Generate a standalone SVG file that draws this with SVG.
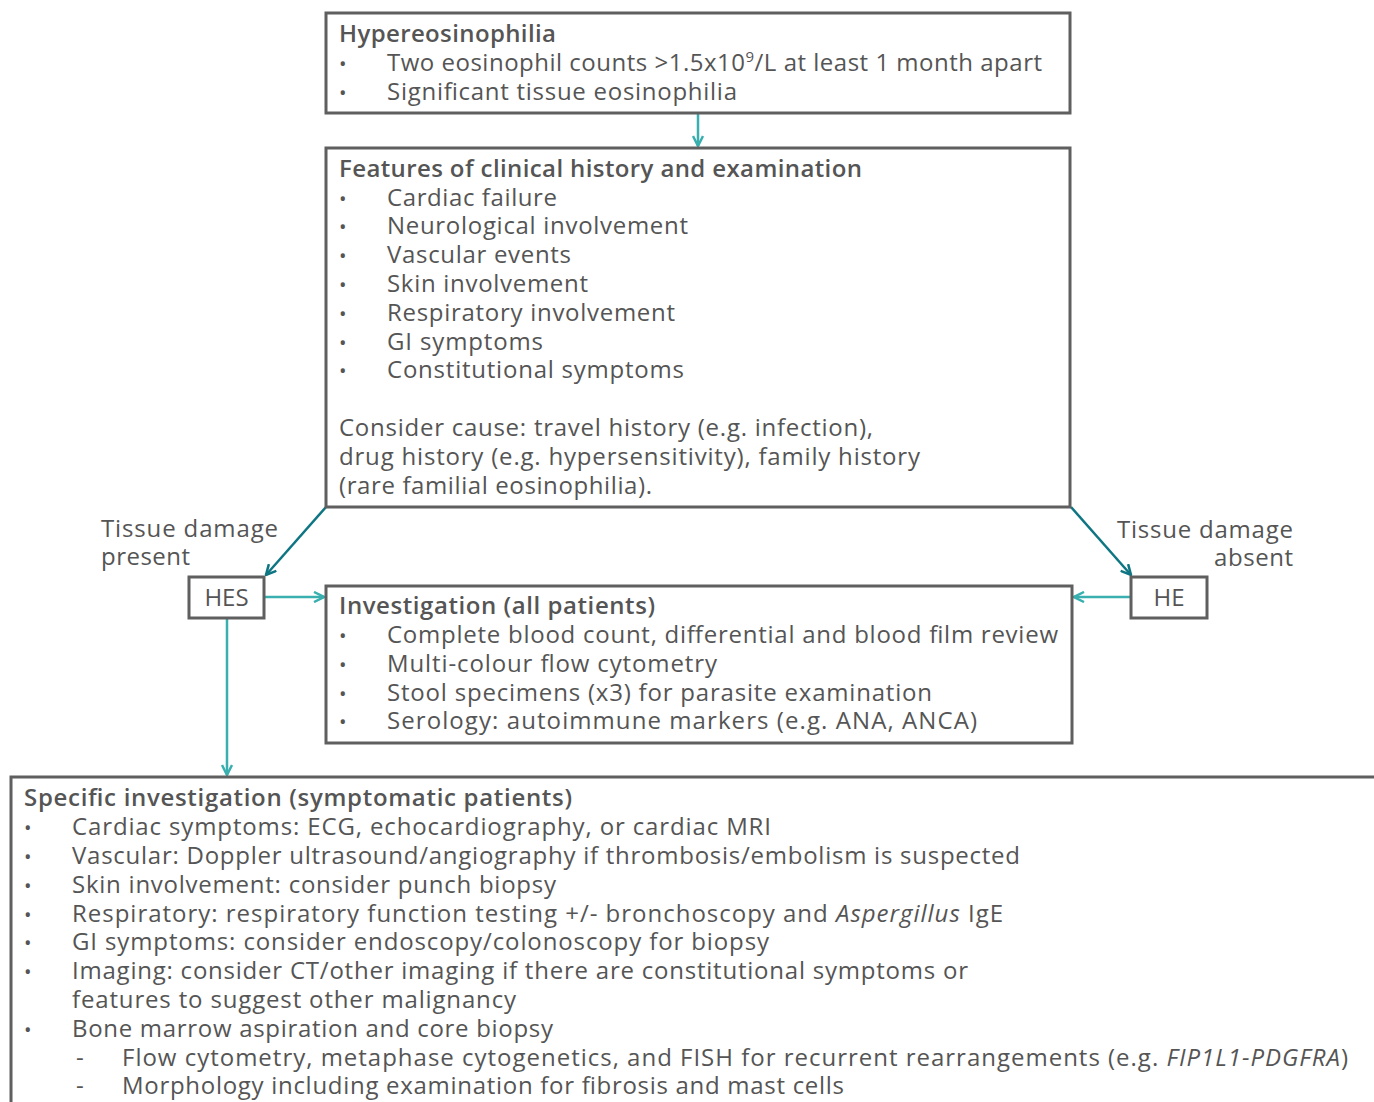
<svg xmlns="http://www.w3.org/2000/svg" width="1374" height="1102" viewBox="0 0 1374 1102">
<defs>
<style>
.box{fill:#fff;stroke:#5f5f5f;stroke-width:3}
text{font-family:"Open Sans","Liberation Sans",sans-serif;font-size:24px;fill:#555}
.t{font-weight:600;fill:#555}
.b{font-size:20px}
.c{stroke:#3aafb0;stroke-width:2.5;fill:none}
.d{stroke:#0e7583;stroke-width:2.5;fill:none}
</style>
<marker id="ah" viewBox="0 0 12 12" refX="11" refY="6" markerWidth="12" markerHeight="12" markerUnits="userSpaceOnUse" orient="auto"><path d="M1,1 L11,6 L1,11" fill="none" stroke="#3aafb0" stroke-width="2.5"/></marker>
<marker id="ahd" viewBox="0 0 12 12" refX="11" refY="6" markerWidth="12" markerHeight="12" markerUnits="userSpaceOnUse" orient="auto"><path d="M1,1 L11,6 L1,11" fill="none" stroke="#0e7583" stroke-width="2.5"/></marker>
</defs>
<rect width="1374" height="1102" fill="#fff"/>
<g id="connectors">
<line class="c" x1="698" y1="113" x2="698" y2="146" marker-end="url(#ah)"/>
<line class="d" x1="326" y1="507" x2="266" y2="575" marker-end="url(#ahd)"/>
<line class="d" x1="1071" y1="507" x2="1131" y2="575" marker-end="url(#ahd)"/>
<line class="c" x1="264" y1="597" x2="324" y2="597" marker-end="url(#ah)"/>
<line class="c" x1="1131" y1="597" x2="1074" y2="597" marker-end="url(#ah)"/>
<line class="c" x1="227" y1="618" x2="227" y2="775" marker-end="url(#ah)"/>
</g>
<g id="hypereosinophilia">
<rect class="box" x="326" y="13" width="744" height="100"/>
<text class="t" x="339" y="42" textLength="217" lengthAdjust="spacing">Hypereosinophilia</text>
<text class="b" x="339" y="71">•</text><text x="387" y="71" textLength="655" lengthAdjust="spacing">Two eosinophil counts &gt;1.5x10<tspan font-size="15" dy="-9">9</tspan><tspan dy="9">/L at least 1 month apart</tspan></text>
<text class="b" x="339" y="100">•</text><text x="387" y="100" textLength="350" lengthAdjust="spacing">Significant tissue eosinophilia</text>
</g>
<g id="features">
<rect class="box" x="326" y="148" width="744" height="359"/>
<text class="t" x="339" y="177" textLength="523" lengthAdjust="spacing">Features of clinical history and examination</text>
<text class="b" x="339" y="206">•</text><text x="387" y="206" textLength="170" lengthAdjust="spacing">Cardiac failure</text>
<text class="b" x="339" y="234">•</text><text x="387" y="234" textLength="301" lengthAdjust="spacing">Neurological involvement</text>
<text class="b" x="339" y="263">•</text><text x="387" y="263" textLength="184" lengthAdjust="spacing">Vascular events</text>
<text class="b" x="339" y="292">•</text><text x="387" y="292" textLength="201" lengthAdjust="spacing">Skin involvement</text>
<text class="b" x="339" y="321">•</text><text x="387" y="321" textLength="288" lengthAdjust="spacing">Respiratory involvement</text>
<text class="b" x="339" y="350">•</text><text x="387" y="350" textLength="156" lengthAdjust="spacing">GI symptoms</text>
<text class="b" x="339" y="378">•</text><text x="387" y="378" textLength="297" lengthAdjust="spacing">Constitutional symptoms</text>
<text x="339" y="436" textLength="534" lengthAdjust="spacing">Consider cause: travel history (e.g. infection),</text>
<text x="339" y="465" textLength="581" lengthAdjust="spacing">drug history (e.g. hypersensitivity), family history</text>
<text x="339" y="494" textLength="313" lengthAdjust="spacing">(rare familial eosinophilia).</text>
</g>
<g id="label-present">
<text x="101" y="537" textLength="177" lengthAdjust="spacing">Tissue damage</text>
<text x="101" y="565" textLength="89" lengthAdjust="spacing">present</text>
</g>
<g id="label-absent">
<text x="1117" y="538" textLength="176" lengthAdjust="spacing">Tissue damage</text>
<text x="1214" y="566" textLength="79" lengthAdjust="spacing">absent</text>
</g>
<g id="hes">
<rect class="box" x="189" y="577" width="75" height="41"/>
<text x="226.5" y="606" text-anchor="middle">HES</text>
</g>
<g id="he">
<rect class="box" x="1131" y="577" width="76" height="41"/>
<text x="1169" y="606" text-anchor="middle">HE</text>
</g>
<g id="investigation">
<rect class="box" x="326" y="586" width="746" height="157"/>
<text class="t" x="339" y="614" textLength="316" lengthAdjust="spacing">Investigation (all patients)</text>
<text class="b" x="339" y="643">•</text><text x="387" y="643" textLength="671" lengthAdjust="spacing">Complete blood count, differential and blood film review</text>
<text class="b" x="339" y="672">•</text><text x="387" y="672" textLength="330" lengthAdjust="spacing">Multi-colour flow cytometry</text>
<text class="b" x="339" y="701">•</text><text x="387" y="701" textLength="545" lengthAdjust="spacing">Stool specimens (x3) for parasite examination</text>
<text class="b" x="339" y="729">•</text><text x="387" y="729" textLength="590" lengthAdjust="spacing">Serology: autoimmune markers (e.g. ANA, ANCA)</text>
</g>
<g id="specific">
<rect class="box" x="11" y="777" width="1380" height="340"/>
<text class="t" x="24" y="806" textLength="548" lengthAdjust="spacing">Specific investigation (symptomatic patients)</text>
<text class="b" x="24" y="835">•</text><text x="72" y="835" textLength="699" lengthAdjust="spacing">Cardiac symptoms: ECG, echocardiography, or cardiac MRI</text>
<text class="b" x="24" y="864">•</text><text x="72" y="864" textLength="948" lengthAdjust="spacing">Vascular: Doppler ultrasound/angiography if thrombosis/embolism is suspected</text>
<text class="b" x="24" y="893">•</text><text x="72" y="893" textLength="484" lengthAdjust="spacing">Skin involvement: consider punch biopsy</text>
<text class="b" x="24" y="922">•</text><text x="72" y="922" textLength="931" lengthAdjust="spacing">Respiratory: respiratory function testing +/- bronchoscopy and <tspan font-style="italic">Aspergillus</tspan> IgE</text>
<text class="b" x="24" y="950">•</text><text x="72" y="950" textLength="697" lengthAdjust="spacing">GI symptoms: consider endoscopy/colonoscopy for biopsy</text>
<text class="b" x="24" y="979">•</text><text x="72" y="979" textLength="896" lengthAdjust="spacing">Imaging: consider CT/other imaging if there are constitutional symptoms or</text>
<text x="72" y="1008" textLength="444" lengthAdjust="spacing">features to suggest other malignancy</text>
<text class="b" x="24" y="1037">•</text><text x="72" y="1037" textLength="481" lengthAdjust="spacing">Bone marrow aspiration and core biopsy</text>
<text x="76" y="1066">-</text><text x="122" y="1066" textLength="1226" lengthAdjust="spacing">Flow cytometry, metaphase cytogenetics, and FISH for recurrent rearrangements (e.g. <tspan font-style="italic">FIP1L1-PDGFRA</tspan>)</text>
<text x="76" y="1094">-</text><text x="122" y="1094" textLength="722" lengthAdjust="spacing">Morphology including examination for fibrosis and mast cells</text>
</g>
</svg>
